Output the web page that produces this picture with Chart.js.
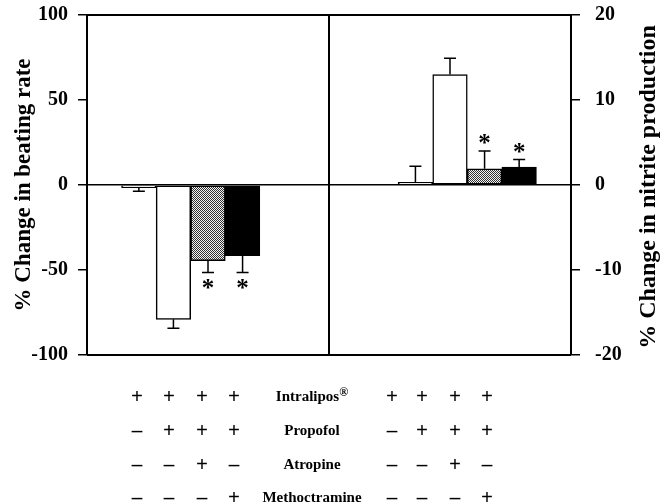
<!DOCTYPE html>
<html>
<head>
<meta charset="utf-8">
<script src="https://cdn.jsdelivr.net/npm/chart.js@4.4.1/dist/chart.umd.min.js"></script>
<style>
  html, body { margin: 0; padding: 0; background: #fff; }
  #wrap { position: relative; width: 668px; height: 504px; overflow: hidden; }
  #wrap canvas { position: absolute; left: 0; top: 0; }
  .cell { position: absolute; transform: translate(-50%, -50%); font-family: "Liberation Serif", "Times New Roman", serif;
          font-weight: bold; color: #000; white-space: nowrap; line-height: 1; }
  .sign { font-size: 21px; }
  .name { font-size: 15px; }
  .name sup { font-size: 12px; vertical-align: 5px; line-height: 0; }
</style>
</head>
<body>
<div id="wrap"><canvas id="c" width="668" height="504"></canvas></div>
<script>
// Treatment groups, same order in both panels
const treatments = ['Intralipos', 'Intralipos + propofol', 'Intralipos + propofol + atropine', 'Intralipos + propofol + methoctramine'];

// Left panel: % change in beating rate (mean, error, significance)
const beatingRate    = [-1.5, -79, -44.5, -41.5];
const beatingRateErr = [2.2, 5.3, 7, 10];
const beatingRateSig = [false, false, true, true];

// Right panel: % change in nitrite production
const nitrite    = [0.3, 13, 1.9, 2.1];
const nitriteErr = [1.9, 1.9, 2.1, 0.9];
const nitriteSig = [false, false, true, true];

// Axis ticks
const beatingTicks = [-100, -50, 0, 50, 100];
const nitriteTicks = [-20, -10, 0, 10, 20];

// Treatment table under the panels
const conditionNames = ['Intralipos', 'Propofol', 'Atropine', 'Methoctramine'];
const conditionSigns = [
  ['+', '+', '+', '+'],
  ['–', '+', '+', '+'],
  ['–', '–', '+', '–'],
  ['–', '–', '–', '+']
];

// ---- layout of the shared category axis: 14 slots, two panels of 7 ----
const SLOTS = 14;
const LEFT_START = 1, RIGHT_START = 9, DIVIDER_AFTER = 6;
const SERIF = '"Liberation Serif", "Times New Roman", serif';

const canvas = document.getElementById('c');
const ctx0 = canvas.getContext('2d');

function dotPattern() {
  const p = document.createElement('canvas');
  p.width = 2; p.height = 2;
  const g = p.getContext('2d');
  g.fillStyle = '#f2f2f2'; g.fillRect(0, 0, 2, 2);
  g.fillStyle = '#333333'; g.fillRect(0, 0, 1, 1); g.fillRect(1, 1, 1, 1);
  return ctx0.createPattern(p, 'repeat');
}
const fills = ['#ffffff', '#ffffff', dotPattern(), '#000000'];

const slotLabels = Array.from({ length: SLOTS }, () => '');
function placeInSlots(values, start) {
  const out = Array(SLOTS).fill(null);
  values.forEach((v, i) => { out[start + i] = v; slotLabels[start + i] = treatments[i]; });
  return out;
}
function slotFills(start) {
  const out = Array(SLOTS).fill('#ffffff');
  fills.forEach((f, i) => { out[start + i] = f; });
  return out;
}

const panels = [
  { start: LEFT_START,  values: beatingRate, err: beatingRateErr, sig: beatingRateSig, axis: 'y' },
  { start: RIGHT_START, values: nitrite,     err: nitriteErr,     sig: nitriteSig,     axis: 'y2' }
];

const datasets = panels.map(p => ({
  data: placeInSlots(p.values, p.start),
  yAxisID: p.axis,
  backgroundColor: slotFills(p.start),
  borderColor: '#000',
  borderWidth: 1.5,
  borderSkipped: false,
  grouped: false,
  barPercentage: 1,
  categoryPercentage: 1
}));

// Frame: top/bottom edges and the panel divider
const framePlugin = {
  id: 'frame',
  beforeDatasetsDraw(chart) {
    const { ctx, chartArea: a, scales } = chart;
    const xs = scales.x;
    const xd = (xs.getPixelForValue(DIVIDER_AFTER) + xs.getPixelForValue(DIVIDER_AFTER + 1)) / 2;
    ctx.save();
    ctx.strokeStyle = '#000';
    ctx.lineWidth = 2;
    ctx.beginPath();
    ctx.moveTo(a.left, a.top); ctx.lineTo(a.right, a.top);
    ctx.moveTo(a.left, a.bottom); ctx.lineTo(a.right, a.bottom);
    ctx.moveTo(xd, a.top); ctx.lineTo(xd, a.bottom);
    ctx.stroke();
    ctx.restore();
  }
};

// One-sided error bars and significance asterisks
const errorPlugin = {
  id: 'errors',
  afterDatasetsDraw(chart) {
    const ctx = chart.ctx;
    ctx.save();
    ctx.strokeStyle = '#000';
    ctx.fillStyle = '#000';
    ctx.lineWidth = 1.5;
    ctx.font = 'bold 25px ' + SERIF;
    ctx.textAlign = 'center';
    ctx.textBaseline = 'alphabetic';
    const m = ctx.measureText('*');
    const starShift = (m.actualBoundingBoxAscent - m.actualBoundingBoxDescent) / 2;
    panels.forEach((p, di) => {
      const meta = chart.getDatasetMeta(di);
      const scale = chart.scales[p.axis];
      p.values.forEach((v, k) => {
        const bar = meta.data[p.start + k];
        const dir = v < 0 ? -1 : 1;
        const y0 = scale.getPixelForValue(v);
        const y1 = scale.getPixelForValue(v + dir * p.err[k]);
        ctx.beginPath();
        ctx.moveTo(bar.x, y0); ctx.lineTo(bar.x, y1);
        ctx.moveTo(bar.x - 6, y1); ctx.lineTo(bar.x + 6, y1);
        ctx.stroke();
        if (p.sig[k]) {
          const cy = dir < 0 ? y1 + 11 : y1 - 12;
          ctx.fillText('*', bar.x, cy + starShift);
        }
      });
    });
    ctx.restore();
  }
};

// Right-hand axis title, reading bottom to top like the left one
const rightTitlePlugin = {
  id: 'rightTitle',
  afterDraw(chart) {
    const { ctx, chartArea: a } = chart;
    ctx.save();
    ctx.translate(649, (a.top + a.bottom) / 2 + 2);
    ctx.rotate(-Math.PI / 2);
    ctx.font = 'bold 24px ' + SERIF;
    ctx.fillStyle = '#000';
    ctx.textAlign = 'center';
    ctx.textBaseline = 'middle';
    ctx.fillText('% Change in nitrite production', 0, 0);
    ctx.restore();
  }
};

const tickFont = { family: SERIF, size: 20, weight: 'bold' };
const zeroOnly = c => (c.tick && c.tick.value === 0) ? '#000' : 'rgba(0,0,0,0)';

// fixed axis widths; end labels may overhang the plot edges
function fixWidth(w) {
  return s => { s.width = w; s.paddingTop = 0; s.paddingBottom = 0; };
}

new Chart(canvas, {
  type: 'bar',
  data: { labels: slotLabels, datasets },
  options: {
    responsive: false,
    animation: false,
    layout: { padding: { top: 15, bottom: 149, left: 0, right: 0 } },
    plugins: { legend: { display: false }, tooltip: { enabled: false } },
    scales: {
      x: { display: false, offset: true },
      y: {
        position: 'left',
        min: -100, max: 100,
        afterBuildTicks: s => { s.ticks = beatingTicks.map(v => ({ value: v })); },
        afterFit: fixWidth(87),
        border: { display: true, color: '#000', width: 2 },
        grid: { color: zeroOnly, lineWidth: 1.5, tickColor: '#000', tickLength: 9, drawTicks: true },
        ticks: { color: '#000', font: tickFont, padding: 10 },
        title: {
          display: true, text: '% Change in beating rate', color: '#000',
          font: { family: SERIF, size: 23, weight: 'bold' }, padding: { top: 10, bottom: 0 }
        }
      },
      y2: {
        position: 'right',
        min: -20, max: 20,
        afterBuildTicks: s => { s.ticks = nitriteTicks.map(v => ({ value: v })); },
        afterFit: fixWidth(97),
        border: { display: true, color: '#000', width: 2 },
        grid: { drawOnChartArea: false, lineWidth: 1.5, color: '#000', tickColor: '#000', tickLength: 9 },
        ticks: { color: '#000', font: tickFont, padding: 15 }
      }
    }
  },
  plugins: [framePlugin, errorPlugin, rightTitlePlugin]
});

// Treatment table
const wrap = document.getElementById('wrap');
const leftCols = [137, 169, 202, 234];
const rightCols = [392, 422, 455, 487];
const nameX = 312;
const rowY = [396, 430, 464, 497];
function cell(x, y, cls, html) {
  const d = document.createElement('div');
  d.className = 'cell ' + cls;
  d.style.left = x + 'px';
  d.style.top = y + 'px';
  d.innerHTML = html;
  wrap.appendChild(d);
}
conditionNames.forEach((name, r) => {
  const label = r === 0 ? name + '<sup>®</sup>' : name;
  cell(nameX, rowY[r], 'name', label);
  conditionSigns[r].forEach((s, c) => {
    cell(leftCols[c], rowY[r], 'sign', s);
    cell(rightCols[c], rowY[r], 'sign', s);
  });
});
</script>
</body>
</html>
